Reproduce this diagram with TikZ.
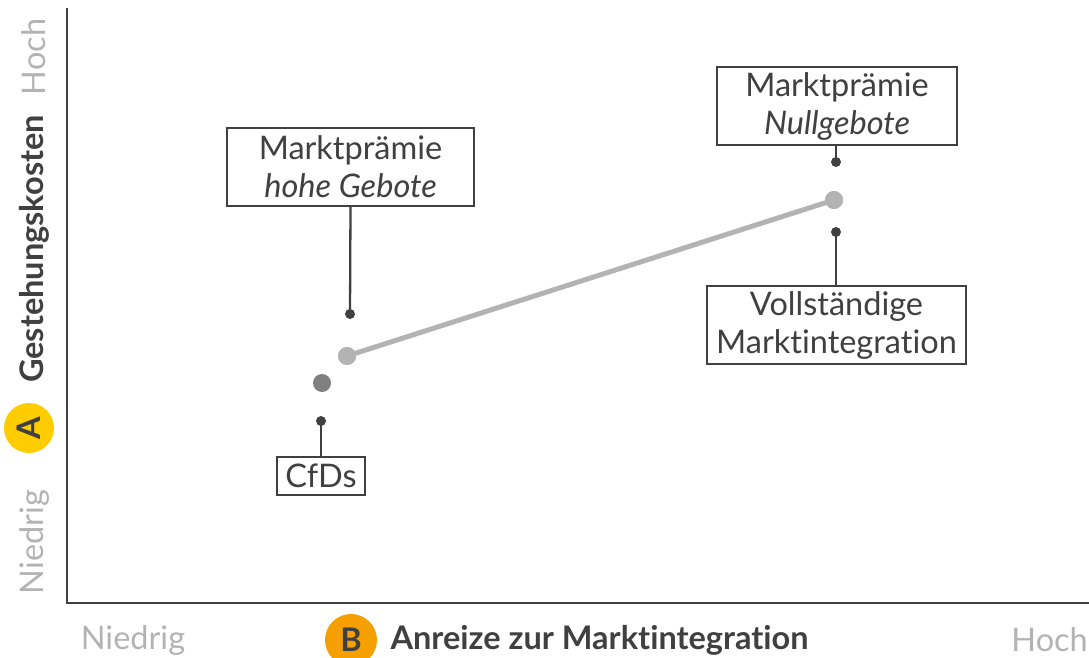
\documentclass[tikz,border=0pt]{standalone}
\usepackage{fontspec}
\setmainfont{Lato}[Ligatures={NoCommon,NoRare}]
\begin{document}
\begin{tikzpicture}[x=1pt,y=-1pt,
  lbox/.style={draw=dark,line width=1.3pt,fill=white,inner sep=0pt,align=center,text=dark,font=\fontsize{32.5}{38}\selectfont},
  sdot/.style={circle,fill=dark,inner sep=0pt,minimum size=10pt},
  pt/.style={circle,inner sep=0pt,minimum size=18pt},
  lead/.style={draw=dark,line width=2.3pt},
  ax/.style={draw=dark,line width=2pt},
  grey/.style={text=lgray,font=\fontsize{32.5}{38}\selectfont},
  boldlab/.style={text=dark,font=\fontsize{32.5}{38}\bfseries\selectfont},
]
\definecolor{dark}{HTML}{404040}
\definecolor{lgray}{HTML}{B3B3B3}
\definecolor{mgray}{HTML}{808080}
\definecolor{ayellow}{HTML}{FFCC00}
\definecolor{borange}{HTML}{F5A000}
\useasboundingbox (0,0) rectangle (1089,658);
% axes
\coordinate (ytop) at (67,8);
\coordinate (orig) at (67,603);
\coordinate (xend) at (1089,603);
\draw[ax] (ytop) -- (orig) -- (xend);
% y axis labels
\node[grey,rotate=90] (yhoch) at (34,57) {Hoch};
\node[boldlab,rotate=90] (ytitle) at (34,249) {Gestehungskosten};
\node[circle,fill=ayellow,minimum size=50pt,inner sep=0pt,rotate=90,boldlab] (A) at (29,428) {A};
\node[grey,rotate=90] (yniedrig) at (34,542) {Niedrig};
% x axis labels
\node[grey] (xniedrig) at (133,640) {Niedrig};
\node[circle,fill=borange,minimum size=52pt,inner sep=0pt,boldlab] (B) at (351,640) {B};
\node[anchor=west,boldlab] (xtitle) at (387,640) {Anreize zur Marktintegration};
\node[grey,anchor=east,inner xsep=1pt] (xhoch) at (1089,640) {Hoch};
% data points
\node[pt,fill=lgray] (p1) at (347,356) {};
\node[pt,fill=lgray] (p2) at (834,200) {};
\node[pt,fill=mgray] (p0) at (322,383) {};
\draw[lgray,line width=5pt] (p1.center) -- (p2.center);
\node[pt,fill=lgray] at (p1) {};
\node[pt,fill=lgray] at (p2) {};
% label boxes
\node[lbox,minimum width=247pt,minimum height=78pt] (mh) at (350.5,167) {Marktprämie\\\itshape hohe Gebote};
\node[lbox,minimum width=240pt,minimum height=78pt] (mn) at (837,106) {Marktprämie\\\itshape Nullgebote};
\node[lbox,minimum width=259pt,minimum height=78pt] (vm) at (836.5,325) {Vollständige\\Marktintegration};
\node[lbox,minimum width=88pt,minimum height=38pt] (cfd) at (321,476) {CfDs};
% leader dots
\node[sdot] (d1) at (350,314) {};
\node[sdot] (d2) at (836,162) {};
\node[sdot] (d3) at (836,232) {};
\node[sdot] (d4) at (321,421) {};
\draw[lead] (mh.south) -- (d1.center);
\draw[lead] (mn.south -| d2) -- (d2.center);
\draw[lead] (d3.center) -- (vm.north -| d3);
\draw[lead] (d4.center) -- (cfd.north);
\end{tikzpicture}
\end{document}
